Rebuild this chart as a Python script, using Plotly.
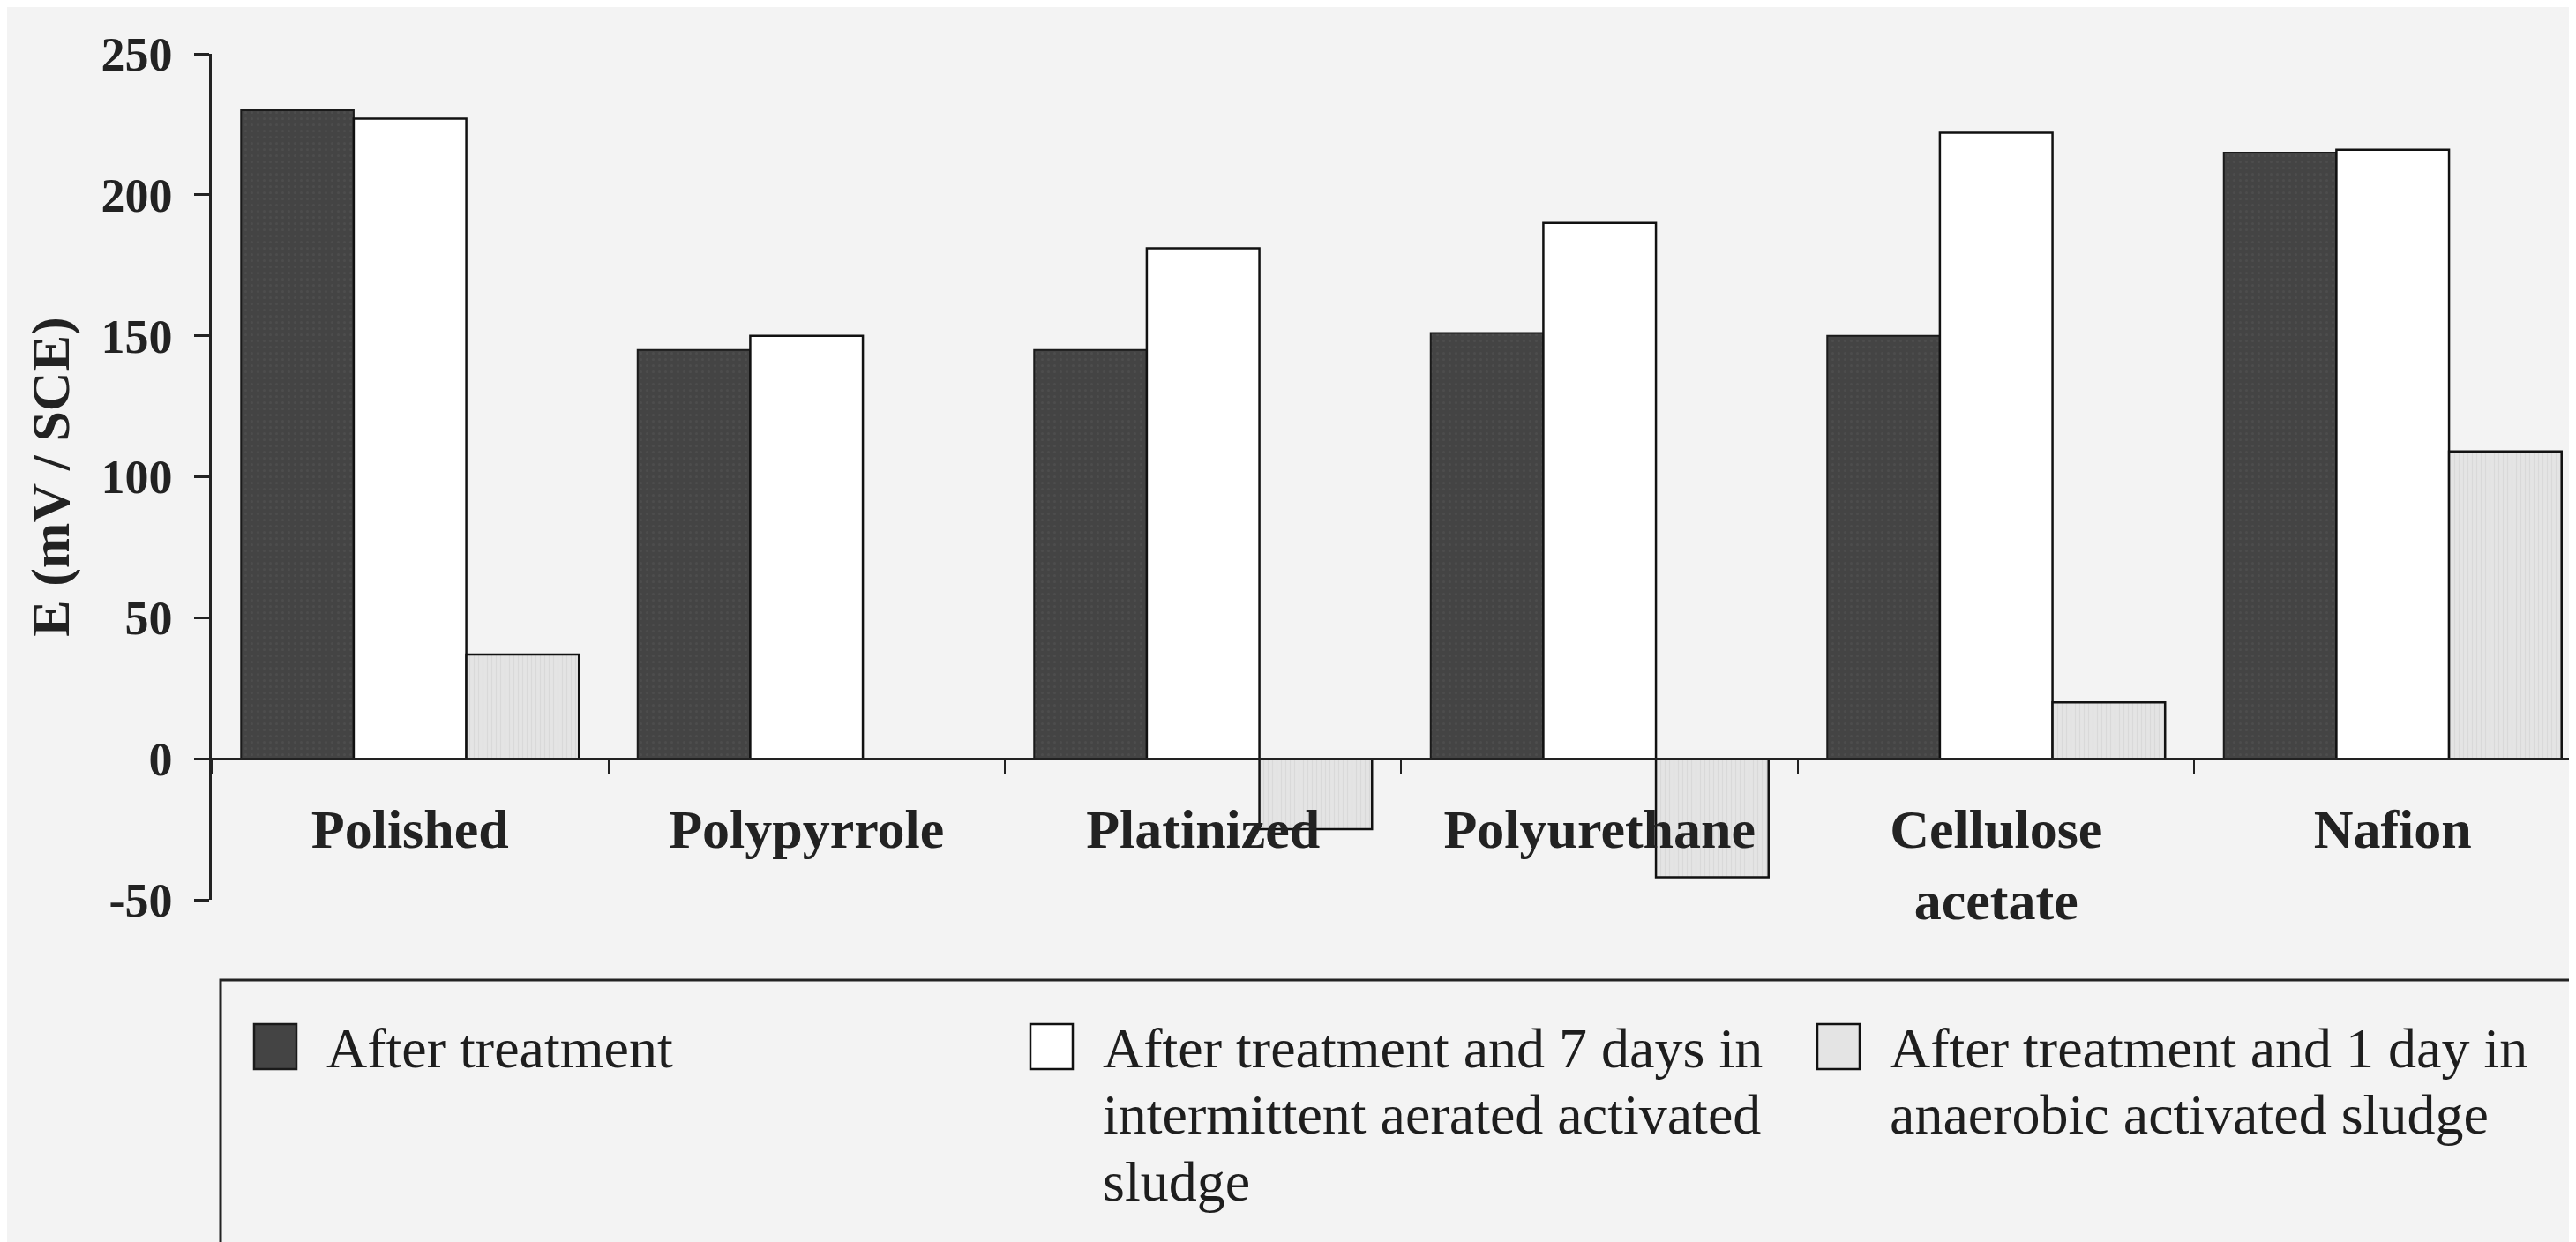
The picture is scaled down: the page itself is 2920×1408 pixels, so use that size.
import plotly.graph_objects as go

# ---- data ----
categories = ["Polished", "Polypyrrole", "Platinized", "Polyurethane", "Cellulose acetate", "Nafion"]
tick_labels = ["Polished", "Polypyrrole", "Platinized", "Polyurethane", "Cellulose<br>acetate", "Nafion"]
after_treatment = [230, 145, 145, 151, 150, 215]
after_7days_aerated = [227, 150, 181, 190, 222, 216]
after_1day_anaerobic = [37, None, -25, -42, 20, 109]
y_ticks = [250, 200, 150, 100, 50, 0, -50]

series_names = [
    "After treatment",
    "After treatment and 7 days in intermittent aerated activated sludge",
    "After treatment and 1 day in anaerobic activated sludge",
]

W, H = 2920, 1408
L, R, T, B = 232, 0, 53, 396
PW, PH = W - L - R, H - T - B
BG = "#f3f3f3"
DARK = "#444444"
STIP = "#e4e4e4"
FONT = "Liberation Serif"


def px2paper(x, y):
    return (x - L) / PW, (H - B - y) / PH


fig = go.Figure()
fig.add_trace(go.Bar(x=categories, y=after_treatment, name=series_names[0],
                     marker=dict(color=DARK, line=dict(color="#1a1a1a", width=2),
                                 pattern=dict(shape=".", fgcolor="#565656", bgcolor=DARK,
                                              size=7, solidity=0.15))))
fig.add_trace(go.Bar(x=categories, y=after_7days_aerated, name=series_names[1],
                     marker=dict(color="#ffffff", line=dict(color="#111111", width=2.5))))
fig.add_trace(go.Bar(x=categories, y=after_1day_anaerobic, name=series_names[2],
                     marker=dict(color=STIP, line=dict(color="#111111", width=2.5),
                                 pattern=dict(shape="|", fgcolor="#cdcdcd", bgcolor=STIP,
                                              size=5, solidity=0.25))))

fig.update_layout(
    width=W, height=H,
    margin=dict(l=L, r=R, t=T, b=B, pad=0),
    paper_bgcolor=BG, plot_bgcolor=BG,
    barmode="group", bargap=0.148, bargroupgap=0,
    showlegend=False,
    font=dict(family=FONT, color="#1e1e1e"),
    xaxis=dict(
        type="category", range=[-0.5, 5.48],
        tickmode="array", tickvals=categories, ticktext=tick_labels,
        tickson="boundaries", ticks="outside", ticklen=16, tickwidth=2, tickcolor="#222",
        showline=True, linecolor="#222", linewidth=2.5,
        anchor="free", position=50 / 300,
        tickfont=dict(family=FONT, size=62, weight="bold", color="#222"),
        ticklabelstandoff=25,
        showgrid=False, zeroline=False,
    ),
    yaxis=dict(
        range=[-50, 250], tickmode="array", tickvals=y_ticks,
        ticktext=[str(v) for v in y_ticks],
        ticks="outside", ticklen=17, tickwidth=2.5, tickcolor="#222",
        showline=True, linecolor="#222", linewidth=2.5,
        tickfont=dict(family=FONT, size=54, weight="bold", color="#222"),
        ticklabelstandoff=14,
        showgrid=False, zeroline=False,
        title=dict(text="E (mV / SCE)", standoff=16,
                   font=dict(family=FONT, size=62, weight="bold", color="#222")),
    ),
)

# ---- hand-drawn legend box (large swatches as in the original) ----
shapes = []
x0, y0 = px2paper(242, 1103)
x1, y1 = px2paper(2911, 1430)
shapes.append(dict(type="rect", xref="paper", yref="paper", x0=x0, y0=y1, x1=x1, y1=y0,
                   line=dict(color="#222", width=3), fillcolor="rgba(0,0,0,0)", layer="above"))

swatches = [
    (280, DARK, "#1a1a1a"),
    (1160, "#ffffff", "#111111"),
    (2052, STIP, "#111111"),
]
for sx, fill, edge in swatches:
    a0, b0 = px2paper(sx, 1153)
    a1, b1 = px2paper(sx + 48, 1204)
    shapes.append(dict(type="rect", xref="paper", yref="paper", x0=a0, y0=b1, x1=a1, y1=b0,
                       line=dict(color=edge, width=2.5), fillcolor=fill, layer="above"))

legend_lines = [
    (360, ["After treatment"]),
    (1240, ["After treatment and 7 days in", "intermittent aerated activated", "sludge"]),
    (2132, ["After treatment and 1 day in", "anaerobic activated sludge"]),
]
annotations = []
line_y = [1180, 1255, 1331]
for tx, lines in legend_lines:
    for i, txt in enumerate(lines):
        ax, ay = px2paper(tx, line_y[i])
        annotations.append(dict(text=txt, xref="paper", yref="paper", x=ax, y=ay,
                                xanchor="left", yanchor="middle", showarrow=False,
                                font=dict(family=FONT, size=64, color="#1e1e1e")))

fig.update_layout(shapes=shapes, annotations=annotations)
fig.write_html("out.html")
